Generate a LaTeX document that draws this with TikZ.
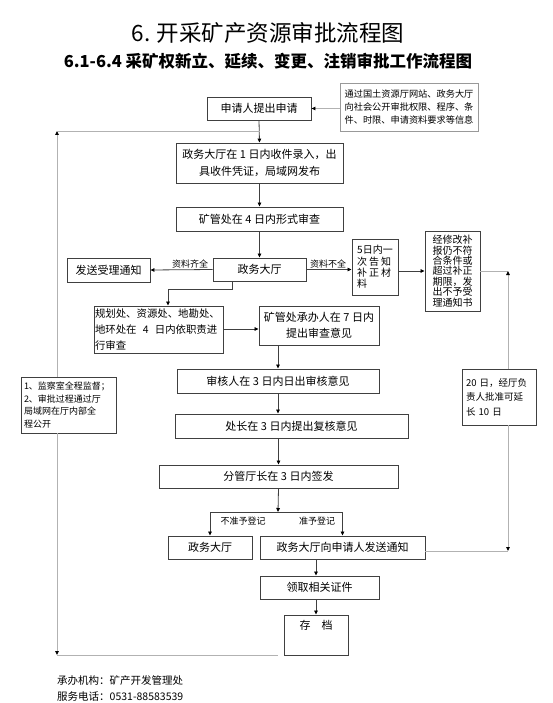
\documentclass[tikz,border=0pt]{standalone}
\usepackage{fontspec}
\setmainfont{Noto Sans CJK SC}
\usetikzlibrary{arrows.meta}
\begin{document}
\begin{tikzpicture}[x=1pt,y=-1pt,
  box/.style={draw=black!75,line width=0.9pt,rectangle,inner sep=0pt,align=center,font=\fontsize{11}{16}\selectfont},
  graybox/.style={box,draw=black!40},
  lbl/.style={font=\fontsize{9}{10}\selectfont,inner sep=0pt},
  arr/.style={draw=black!75,line width=0.8pt,-{Triangle[length=4pt,width=3.6pt,color=black]}},
  ln/.style={draw=black!75,line width=0.8pt},
  gl/.style={draw=black!30,line width=0.9pt},
  gla/.style={gl,-{Triangle[length=4pt,width=3.6pt,color=black]}}
]
\fill[white] (0,0) rectangle (553,703);
\useasboundingbox (0,0) rectangle (553,703);

% titles
\node[font=\fontsize{22.5}{25}\selectfont,inner sep=0pt] (title) at (268,33) {6. 开采矿产资源审批流程图};
\node[font=\fontsize{16.5}{19}\selectfont\bfseries,inner sep=0pt] (subtitle) at (268,61) {6.1-6.4 采矿权新立、延续、变更、注销审批工作流程图};

% main boxes
\node[box,minimum width=104pt,minimum height=23pt] (req) at (259,108.5) {申请人提出申请};
\node[graybox,minimum width=138pt,minimum height=48pt,align=left,font=\fontsize{9.2}{13}\selectfont] (info) at (409,107)
  {通过国土资源厅网站、政务大厅\\向社会公开审批权限、程序、条\\件、时限、申请资料要求等信息};
\node[box,minimum width=167pt,minimum height=40pt,font=\fontsize{11}{17}\selectfont] (rec) at (259.5,163)
  {政务大厅在 1 日内收件录入，出\\具收件凭证，局域网发布};
\node[box,minimum width=167pt,minimum height=24pt] (form) at (259.5,219) {矿管处在 4 日内形式审查};
\node[box,minimum width=93pt,minimum height=23pt] (hall) at (259.5,269.5) {政务大厅};
\node[box,minimum width=83pt,minimum height=24pt] (accept) at (108.5,270) {发送受理通知};
\node[box,minimum width=46pt,minimum height=56pt,align=left,font=\fontsize{10}{11.3}\selectfont] (five) at (375,267)
  {5日内一\\\makebox[34pt][s]{次\hfill 告\hfill 知}\\\makebox[34pt][s]{补\hfill 正\hfill 材}\\料};
\node[box,minimum width=55pt,minimum height=80pt,font=\fontsize{10}{10.4}\selectfont] (refuse) at (452.5,271)
  {经修改补\\报仍不符\\合条件或\\超过补正\\期限，发\\出不予受\\理通知书};
\node[box,minimum width=129pt,minimum height=47pt,text width=127pt,align=left,font=\fontsize{10.4}{16}\selectfont] (plan) at (158.5,329.5)
  {规划处、资源处、地勘处、\\地环处在\hspace{0.6em}4\hspace{0.6em}日内依职责进\\行审查};
\node[box,minimum width=120pt,minimum height=39pt,font=\fontsize{11}{15.5}\selectfont] (handler) at (319,325.5)
  {矿管处承办人在 7 日内\\提出审查意见};
\node[box,minimum width=202pt,minimum height=24pt] (check) at (278,381) {审核人在 3 日内日出审核意见};
\node[box,minimum width=233pt,minimum height=24pt] (chief) at (291.5,426) {处长在 3 日内提出复核意见};
\node[box,minimum width=239pt,minimum height=23pt] (sign) at (278.5,476.5) {分管厅长在 3 日内签发};
\node[box,minimum width=84pt,minimum height=23pt] (hall2) at (210,547.5) {政务大厅};
\node[box,minimum width=165pt,minimum height=23pt] (notify) at (342.5,547.5) {政务大厅向申请人发送通知};
\node[box,minimum width=119pt,minimum height=23pt] (cert) at (319.5,587.5) {领取相关证件};
\node[box,minimum width=64pt,minimum height=40pt] (archive) at (316,635) {};
\node[font=\fontsize{11}{12}\selectfont,inner sep=0pt] (archtxt) at (316,625.5) {存　档};

% side boxes
\node[box,minimum width=95pt,minimum height=56pt,text width=89pt,align=left,font=\fontsize{9}{12.4}\selectfont] (sup) at (68.5,405)
  {1、监察室全程监督；\\2、审批过程通过厅\\局域网在厅内部全\\程公开};
\node[box,minimum width=74pt,minimum height=56pt,text width=66pt,align=left,font=\fontsize{9.5}{14.5}\selectfont] (ext) at (499,397)
  {20 日，经厅负\\责人批准可延\\长 10 日};

% coordinates of gray loops
\coordinate (LT) at (57,131);
\coordinate (LB) at (57,655);
\coordinate (LBend) at (278,655);
\coordinate (RT) at (508,271);
\coordinate (RB) at (508,551);
\coordinate (split) at (278,512);

% main connectors
\draw[arr] (req.south) -- (rec.north);
\draw[arr] (rec.south) -- (form.north);
\draw[arr] (form.south) -- (hall.north);
\draw[arr] (hall.west) -- (accept.east);
\draw[arr] (hall.east) -- (hall.east -| five.west);
\draw[arr] (refuse.west -| five.east) -- (refuse.west);
\draw[arr] ([xshift=-27.5pt]hall.south) -- ++(0,8) -| ([xshift=9.5pt]plan.north);
\draw[arr] ([yshift=0.5pt]plan.east) -- ([yshift=0.5pt]plan.east -| handler.west);
\draw[arr] (handler.south -| check.north) -- (check.north);
\draw[arr] (check.south) -- (check.south |- chief.north);
\draw[arr] (chief.south -| sign.north) -- (sign.north);
\draw[arr] (sign.south) -- (split);
\draw[arr] (split) -| (hall2.north);
\draw[arr] (split) -| (notify.north);
\draw[arr] (notify.south -| archive.north) -- (cert.north -| archive.north);
\draw[arr] (cert.south -| archive.north) -- (archive.north);

% labels
\node[lbl,anchor=south] (l1) at (190,268) {资料齐全};
\node[lbl,anchor=south] (l2) at (328,268) {资料不全};
\node[lbl] (l3) at (243,521) {不准予登记};
\node[lbl] (l4) at (317,521) {准予登记};

% gray connectors
\draw[gla] (info.west |- req.east) -- (req.east);
\draw[gla] (sup.north -| LT) -- (LT);
\draw[gl] (LT) -- (LT -| rec.north);
\draw[gla] (sup.south -| LB) -- (LB);
\draw[gl] (LB) -- (LBend);
\draw[gl] (refuse.east) -- (RT);
\draw[gla] (ext.north -| RT) -- (RT);
\draw[gla] (ext.south -| RB) -- (RB);
\draw[gl] (notify.east |- RB) -- (RB);

% footer
\node[anchor=base west,inner sep=0pt,font=\fontsize{10.5}{12}\selectfont] (f1) at (57,684) {承办机构：矿产开发管理处};
\node[anchor=base west,inner sep=0pt,font=\fontsize{10.5}{12}\selectfont] (f2) at (57,700) {服务电话：0531-88583539};
\end{tikzpicture}
\end{document}
